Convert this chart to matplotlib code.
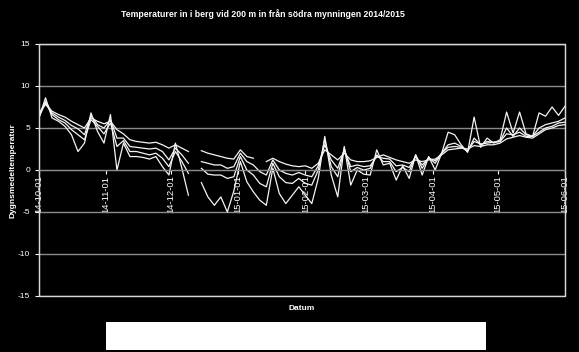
import numpy as np
import pandas as pd
import matplotlib
matplotlib.use("Agg")
import matplotlib.pyplot as plt
import matplotlib.dates as mdates
from matplotlib.patches import Rectangle

nan = np.nan

# every third day, 2014-10-01 .. 2015-06-01
dates = pd.date_range("2014-10-01", "2015-06-01", freq="3D")

# smoothest sensor (warmest in winter)
s4 = [6.8, 7.8, 7.0, 6.6, 6.3, 5.8, 5.4, 5.0, 6.2, 5.8, 5.5, 5.8, 4.8, 4.3, 3.6, 3.4,
      3.3, 3.2, 3.3, 3.0, 2.6, 3.0, 2.6, 2.2, nan, 2.3, 2.0, 1.8, 1.6, 1.4, 1.3, 2.4,
      1.6, 1.4, nan, 1.0, 1.4, 1.0, 0.7, 0.5, 0.4, 0.5, 0.2, 0.8, 2.4, 1.8, 1.2, 2.0,
      1.2, 1.0, 1.0, 1.1, 1.5, 1.8, 1.5, 1.2, 1.0, 0.8, 1.2, 1.0, 1.2, 1.3, 1.8, 2.4,
      2.5, 2.6, 2.5, 2.9, 2.8, 3.0, 3.0, 3.2, 3.7, 3.9, 4.1, 3.9, 3.8, 4.3, 4.8, 5.0,
      5.3, 5.4]
s3 = [6.5, 8.2, 6.8, 6.3, 5.9, 5.3, 4.9, 4.2, 6.5, 5.4, 5.0, 6.0, 3.8, 3.8, 2.8, 2.7,
      2.6, 2.5, 2.6, 2.2, 1.2, 2.6, 1.8, 0.8, nan, 1.0, 0.8, 0.6, 0.6, 0.2, 0.4, 2.0,
      1.0, 0.6, -0.2, -0.6, 1.2, 0.0, -0.4, -0.6, -0.3, -0.6, -0.8, 0.5, 3.0, 1.2, 0.2, 2.4,
      0.4, 0.6, 0.4, 0.5, 1.6, 1.4, 1.3, 0.5, 0.6, 0.3, 1.6, 0.6, 1.4, 1.1, 2.0, 2.7,
      2.8, 2.7, 2.3, 3.4, 3.1, 3.2, 3.3, 3.4, 4.3, 4.2, 4.5, 4.0, 4.0, 4.5, 5.0, 5.2,
      5.6, 5.7]
s2 = [6.3, 8.0, 6.6, 6.0, 5.6, 4.8, 4.2, 3.6, 6.0, 5.2, 4.3, 5.6, 2.8, 3.5, 2.2, 2.2,
      2.0, 1.8, 2.0, 1.4, 0.4, 2.2, 1.0, -0.4, nan, 0.2, -0.5, -0.6, -0.6, -1.0, -0.8, 1.6,
      0.0, -0.6, -1.6, -2.0, 0.8, -0.8, -1.5, -1.6, -1.0, -1.6, -1.8, 0.0, 3.6, 0.4, -0.8, 2.6,
      -0.2, 0.3, 0.0, 0.2, 1.8, 1.0, 1.0, -0.2, 0.3, -0.2, 1.8, 0.2, 1.5, 0.8, 2.0, 3.0,
      3.2, 2.8, 2.2, 3.8, 3.0, 3.4, 3.3, 3.4, 5.0, 4.0, 5.0, 4.2, 4.0, 5.0, 5.4, 5.6,
      5.8, 6.2]
# most variable sensor (coldest in winter, warmest in spring)
s1 = [6.2, 8.6, 6.2, 5.8, 5.2, 4.2, 2.2, 3.2, 6.8, 4.6, 3.2, 6.6, 0.0, 3.2, 1.6, 1.6,
      1.5, 1.3, 1.6, 0.4, -0.6, 3.2, 0.2, -3.0, nan, -1.5, -3.2, -4.2, -3.2, -5.0, -2.5, 1.0,
      -1.4, -2.6, -3.6, -4.2, 0.2, -2.8, -4.0, -3.0, -2.0, -3.0, -4.0, -1.0, 4.0, -0.6, -3.2, 2.8,
      -1.8, 0.0, -0.5, -0.6, 2.4, 0.6, 0.8, -1.2, 0.5, -1.0, 1.8, -0.6, 1.6, 0.0, 2.0, 4.5,
      4.2, 3.0, 2.1, 6.3, 2.7, 3.8, 3.2, 3.6, 6.9, 4.4, 6.9, 4.3, 4.0, 6.8, 6.4, 7.5,
      6.5, 7.6]

yticks = [-15, -10, -5, 0, 5, 10, 15]
month_ticks = pd.date_range("2014-10-01", "2015-06-01", freq="MS")

fig = plt.figure(figsize=(5.79, 3.52), dpi=100, facecolor="black")
ax = fig.add_axes([0.0674, 0.1591, 0.9085, 0.7159], facecolor="black")

for s in [s4, s3, s2, s1]:
    ax.plot(dates, s, color="#f4f4f4", lw=0.9)

ax.set_ylim(-15, 15)
ax.set_xlim(month_ticks[0], month_ticks[-1])
ax.set_yticks(yticks)
ax.set_yticklabels([str(v) for v in yticks], fontsize=6, color="white",
                   family="Liberation Sans")
ax.yaxis.grid(True, color="#8a8a8a", lw=1)
ax.set_axisbelow(True)
ax.tick_params(axis="y", colors="white", length=3, width=0.8)

# date axis crossing at 0
ax.spines["bottom"].set_position(("data", 0))
ax.spines["bottom"].set_color("#8a8a8a")
ax.set_xticks(month_ticks)
ax.xaxis.set_major_formatter(mdates.DateFormatter("%y-%m-%d"))
ax.tick_params(axis="x", colors="white", length=3, width=0.8, labelsize=6.8, pad=1,
               labelrotation=90)
for lab in ax.get_xticklabels():
    lab.set_family("Liberation Sans")
for side in ["top", "left", "right"]:
    ax.spines[side].set_color("#d8d8d8")
ax.add_patch(Rectangle((0, 0), 1, 1, transform=ax.transAxes, fill=False,
                       edgecolor="#d8d8d8", lw=1, clip_on=False))

fig.text(263 / 579, 1 - 14 / 352, "Temperaturer in i berg vid 200 m in från södra mynningen 2014/2015",
         ha="center", va="center", color="white", fontsize=6.3, fontweight="bold",
         family="Liberation Sans")
fig.text(13 / 579, 1 - 171 / 352, "Dygnsmedeltemperatur", rotation=90, ha="center", va="center",
         color="white", fontsize=6, fontweight="bold", family="Liberation Sans")
fig.text(302 / 579, 1 - 308 / 352, "Datum", ha="center", va="center", color="white",
         fontsize=6, fontweight="bold", family="Liberation Sans")

# empty legend box
fig.add_artist(Rectangle((106 / 579, 1 - 350 / 352), (486 - 106) / 579, 28 / 352,
                         transform=fig.transFigure, facecolor="white", edgecolor="none"))

fig.savefig("out.png", dpi=100, facecolor="black")
